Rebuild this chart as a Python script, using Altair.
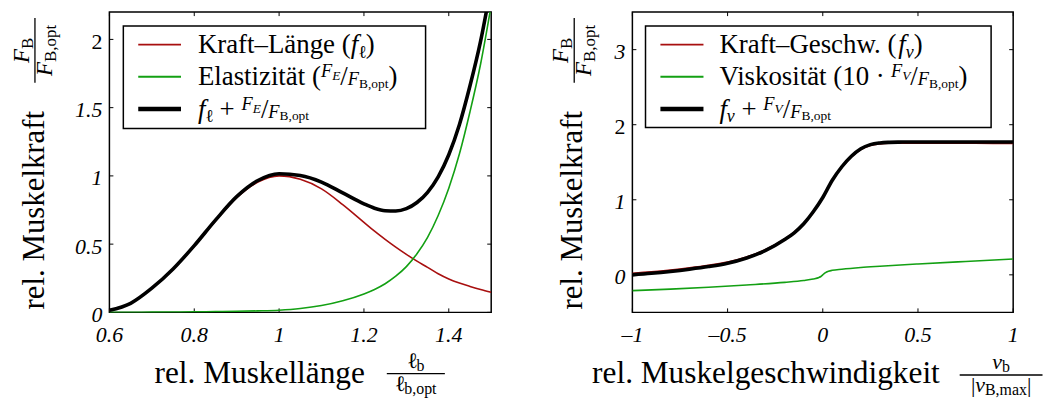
import altair as alt
import pandas as pd

FONT = "Liberation Serif"
RED = "#A80F0F"
GREEN = "#13A013"

# ---------------- data ----------------
laenge = [0.60, 0.65, 0.70, 0.75, 0.80, 0.85, 0.90, 0.95, 1.00, 1.05, 1.10,
          1.15, 1.20, 1.225, 1.25, 1.275, 1.30, 1.325, 1.35, 1.375, 1.40, 1.425, 1.45, 1.475, 1.50]
kraft_laenge = [0.015, 0.065, 0.175, 0.315, 0.485, 0.67, 0.84, 0.955, 1.0, 0.975, 0.905,
                0.79, 0.66, 0.595, 0.535, 0.478, 0.425, 0.375, 0.33, 0.283, 0.245, 0.215, 0.19, 0.167, 0.147]
elastizitaet = [0.0, 0.001, 0.002, 0.003, 0.004, 0.006, 0.008, 0.011, 0.016, 0.028, 0.05,
                0.085, 0.135, 0.168, 0.21, 0.265, 0.335, 0.43, 0.55, 0.71, 0.91, 1.16, 1.47, 1.82, 2.25]
gesamt_laenge = [0.015, 0.066, 0.177, 0.318, 0.489, 0.676, 0.848, 0.966, 1.016, 1.003, 0.955,
                 0.875, 0.795, 0.763, 0.745, 0.743, 0.76, 0.805, 0.88, 0.993, 1.155, 1.375, 1.66, 1.987, 2.397]

geschw = [-1.0, -0.9, -0.8, -0.7, -0.6, -0.5, -0.4, -0.3, -0.2, -0.15, -0.1, -0.05, 0.0,
          0.05, 0.1, 0.15, 0.2, 0.25, 0.3, 0.35, 0.4, 0.5, 0.6, 0.8, 1.0]
kraft_geschw = [0.021, 0.04, 0.064, 0.093, 0.127, 0.17, 0.238, 0.337, 0.48, 0.569, 0.687, 0.845, 1.03,
                1.254, 1.432, 1.571, 1.67, 1.724, 1.745, 1.753, 1.755, 1.755, 1.754, 1.752, 1.749]
gesamt_geschw = [0.0, 0.02, 0.045, 0.075, 0.11, 0.155, 0.225, 0.325, 0.47, 0.56, 0.68, 0.84, 1.03,
                 1.26, 1.44, 1.58, 1.68, 1.735, 1.757, 1.765, 1.768, 1.77, 1.77, 1.77, 1.77]
geschw_visk = [-1.0, -0.8, -0.6, -0.4, -0.2, -0.1, -0.05, -0.02, -0.01, 0.0, 0.01, 0.02,
               0.05, 0.1, 0.2, 0.3, 0.5, 0.75, 1.0]
viskositaet = [-0.21, -0.19, -0.165, -0.135, -0.10, -0.075, -0.055, -0.035, -0.022, 0.0, 0.022, 0.038,
               0.06, 0.075, 0.098, 0.115, 0.145, 0.178, 0.21]

x_ticks_l = [0.6, 0.8, 1.0, 1.2, 1.4]
x_labels_l = ["0.6", "0.8", "1", "1.2", "1.4"]
y_ticks_l = [0.0, 0.5, 1.0, 1.5, 2.0]
y_labels_l = ["0", "0.5", "1", "1.5", "2"]
x_ticks_r = [-1.0, -0.5, 0.0, 0.5, 1.0]
x_labels_r = ["–1", "–0.5", "0", "0.5", "1"]
y_ticks_r = [0.0, 1.0, 2.0, 3.0]
y_labels_r = ["0", "1", "2", "3"]

W_L, W_R, H = 384, 383, 302

# ---------------- text metrics (Times / Liberation Serif) ----------------
REG = {' ': 250, '(': 333, ')': 333, '+': 564, '.': 250, ',': 250, '/': 278, '–': 500, '·': 250,
       '|': 200, 'ℓ': 420, 'a': 444, 'b': 500, 'c': 444, 'd': 500, 'e': 444, 'f': 333, 'g': 500,
       'h': 500, 'i': 278, 'k': 500, 'l': 278, 'm': 778, 'n': 500, 'o': 500, 'p': 500, 'r': 333,
       's': 389, 't': 278, 'u': 500, 'v': 500, 'w': 722, 'x': 500, 'z': 444, 'ä': 444,
       'B': 667, 'E': 611, 'F': 556, 'G': 722, 'K': 722, 'L': 611, 'M': 889, 'V': 722}
ITA = {'F': 611, 'E': 611, 'V': 611, 'f': 278, 'v': 444, 'ℓ': 420}


def tw(s, size, style):
    table = ITA if style == "italic" else REG
    return sum(table.get(ch, REG.get(ch, 500)) for ch in s) * size / 1000.0


one = pd.DataFrame({"d": [0]})


def piece(s, x, y, size, style="normal", angle=0):
    return alt.Chart(one).mark_text(
        text=s, font=FONT, fontSize=size, fontStyle=style, angle=angle,
        align="left", baseline="alphabetic", color="black"
    ).encode(x=alt.value(x), y=alt.value(y))


def run(pieces, x0, y0, angle=0):
    out = []
    cur = 0.0
    for s, size, style, dy in pieces:
        stripped = s.lstrip(" ")
        lead = tw(s[:len(s) - len(stripped)], size, "normal")
        if stripped.strip():
            if angle == 0:
                out.append(piece(stripped.rstrip(" "), x0 + cur + lead, y0 + dy, size, style))
            else:
                out.append(piece(stripped.rstrip(" "), x0 + dy, y0 - cur - lead, size, style, angle=270))
        cur += tw(s, size, style)
    return out


def width(pieces):
    return sum(tw(s, size, style) for s, size, style, dy in pieces)


def hfrac(num, den, x1, x2, ybar):
    c = (x1 + x2) / 2
    out = [alt.Chart(one).mark_rule(color="black", strokeWidth=1.3).encode(
        x=alt.value(x1), x2=alt.value(x2), y=alt.value(ybar))]
    out += run(num, c - width(num) / 2, ybar - 6)
    out += run(den, c - width(den) / 2, ybar + 17.5)
    return out


def vfrac(num, den, xbar, y1, y2):
    c = (y1 + y2) / 2
    out = [alt.Chart(one).mark_rule(color="black", strokeWidth=1.3).encode(
        x=alt.value(xbar), y=alt.value(y1), y2=alt.value(y2))]
    out += run(num, xbar - 6, c + width(num) / 2, angle=270)
    out += run(den, xbar + 17, c + width(den) / 2, angle=270)
    return out


LEG = 27
LF, LFS = 18.5, 13.5


def legend(x1, x2, y1, y2, lx1, lx2, tx, rows):
    out = [alt.Chart(one).mark_rect(fill="white", stroke="black", strokeWidth=1.5).encode(
        x=alt.value(x1), x2=alt.value(x2), y=alt.value(y1), y2=alt.value(y2))]
    for (color, sw, pieces), ly in zip(rows, [32.7, 65.0, 97.5]):
        out.append(alt.Chart(one).mark_rule(color=color, strokeWidth=sw).encode(
            x=alt.value(lx1), x2=alt.value(lx2), y=alt.value(ly)))
        out += run(pieces, tx, ly + 8.5)
    return out


def frac_inline(num, sub, den_sub):
    return [(num, LF, "italic", -8), (sub, LFS, "italic", -5), ("/", LEG, "normal", 0),
            ("F", LF, "italic", 0), (den_sub, LFS, "normal", 3)]


def panel(dfs, xdom, ydom, xt, xl, yt, yl, w, extra):
    xs = alt.Scale(domain=xdom, nice=False, zero=False)
    ys = alt.Scale(domain=ydom, nice=False, zero=False)
    common = dict(grid=True, title=None, labels=False, ticks=False, domain=False,
                  gridColor="#111111", gridDash=[1.4, 10.6], gridWidth=1.2, gridOpacity=1)
    xax = alt.Axis(values=xt, **common)
    yax = alt.Axis(values=yt, **common)
    layers = []
    base_grid = alt.Chart(pd.DataFrame({"x": [xdom[0]], "y": [ydom[0]]})).mark_point(opacity=0).encode(
        x=alt.X("x:Q", scale=xs, axis=xax), y=alt.Y("y:Q", scale=ys, axis=yax))
    layers.append(base_grid)
    # inward ticks on all four sides
    tx = pd.DataFrame({"t": xt, "lab": xl})
    ty = pd.DataFrame({"t": yt, "lab": yl})
    for a, b in [(H, H - 4), (0, 4)]:
        layers.append(alt.Chart(tx).mark_rule(color="black", strokeWidth=1).encode(
            x=alt.X("t:Q", scale=xs, axis=None), y=alt.value(a), y2=alt.value(b)))
    for a, b in [(0, 4), (w, w - 4)]:
        layers.append(alt.Chart(ty).mark_rule(color="black", strokeWidth=1).encode(
            y=alt.Y("t:Q", scale=ys, axis=None), x=alt.value(a), x2=alt.value(b)))
    # tick labels (italic, except "2" which the reference shows upright)
    for df_t, chan in [(tx, "x"), (ty, "y")]:
        for style, test in [("italic", "datum.t != 2"), ("normal", "datum.t == 2")]:
            if chan == "x":
                layers.append(alt.Chart(df_t).transform_filter(test).mark_text(
                    font=FONT, fontSize=22, fontStyle=style, color="black", align="center",
                    baseline="alphabetic").encode(
                    x=alt.X("t:Q", scale=xs, axis=None), y=alt.value(H + 29.7), text="lab:N"))
            else:
                layers.append(alt.Chart(df_t).transform_filter(test).mark_text(
                    font=FONT, fontSize=22, fontStyle=style, color="black", align="right",
                    baseline="alphabetic", dy=9.5).encode(
                    y=alt.Y("t:Q", scale=ys, axis=None), x=alt.value(-7), text="lab:N"))
    for df, col, color, sw in dfs:
        layers.append(alt.Chart(df).mark_line(color=color, strokeWidth=sw, interpolate="monotone", clip=True).encode(
            x=alt.X("x:Q", scale=xs, axis=None), y=alt.Y(col + ":Q", scale=ys, axis=None), order="x:Q"))
    layers += extra
    return alt.layer(*layers).properties(width=w, height=H)


# ---------------- left panel ----------------
df_l = pd.DataFrame({"x": laenge, "fl": kraft_laenge, "fe": elastizitaet, "sum": gesamt_laenge})
extra_l = []
extra_l += legend(14, 318, 14, 117, 29, 72, 89, [
    (RED, 1.8, [("Kraft–Länge (", LEG, "normal", 0), ("f", LEG, "italic", 0), ("ℓ", 18, "normal", 5),
                (")", LEG, "normal", 0)]),
    (GREEN, 1.8, [("Elastizität (", LEG, "normal", 0)] + frac_inline("F", "E", "B,opt") + [(")", LEG, "normal", 0)]),
    ("black", 4.5, [("f", LEG, "italic", 0), ("ℓ", 18, "normal", 5), (" + ", LEG, "normal", 0)]
     + frac_inline("F", "E", "B,opt")),
])
extra_l += run([("rel. Muskelkraft", 31, "normal", 0)], -65.9, 299, angle=270)
extra_l += vfrac([("F", 23, "italic", 0), ("B", 17, "normal", 4)],
                 [("F", 23, "italic", 0), ("B,opt", 17, "normal", 4)], -74.9, 6, 71)
extra_l += run([("rel. Muskellänge", 31.5, "normal", 0)], 45.4, 372.7)
extra_l += hfrac([("ℓ", 22, "normal", 0), ("b", 16, "normal", 3)],
                 [("ℓ", 22, "normal", 0), ("b,opt", 16, "normal", 3)], 279, 337.4, 363.7)

left = panel([(df_l, "fl", RED, 1.6), (df_l, "fe", GREEN, 1.6), (df_l, "sum", "black", 3.6)],
             [0.6, 1.5], [0, 2.2], x_ticks_l, x_labels_l, y_ticks_l, y_labels_l, W_L, extra_l)

# ---------------- right panel ----------------
df_r = pd.DataFrame({"x": geschw, "fv": kraft_geschw, "sum": gesamt_geschw})
df_v = pd.DataFrame({"x": geschw_visk, "visk": viskositaet})
extra_r = []
extra_r += legend(13.2, 360.8, 14, 116, 28.2, 71.5, 87.5, [
    (RED, 1.8, [("Kraft–Geschw. (", LEG, "normal", 0), ("f", LEG, "italic", 0), ("v", 18, "italic", 5),
                (")", LEG, "normal", 0)]),
    (GREEN, 1.8, [("Viskosität (10 · ", LEG, "normal", 0)] + frac_inline("F", "V", "B,opt") + [(")", LEG, "normal", 0)]),
    ("black", 4.5, [("f", LEG, "italic", 0), ("v", 18, "italic", 5), (" + ", LEG, "normal", 0)]
     + frac_inline("F", "V", "B,opt")),
])
extra_r += run([("rel. Muskelkraft", 31, "normal", 0)], -50.2, 299, angle=270)
extra_r += vfrac([("F", 23, "italic", 0), ("B", 17, "normal", 4)],
                 [("F", 23, "italic", 0), ("B,opt", 17, "normal", 4)], -58.5, 6, 71)
extra_r += run([("rel. Muskelgeschwindigkeit", 31.5, "normal", 0)], -40.5, 372.7)
extra_r += hfrac([("v", 22, "italic", 0), ("b", 16, "normal", 3)],
                 [("|", 22, "normal", 0), ("v", 22, "italic", 0), ("B,max", 16, "normal", 3), ("|", 22, "normal", 0)],
                 329.2, 412.5, 365)

right = panel([(df_r, "fv", RED, 1.6), (df_v, "visk", GREEN, 1.6), (df_r, "sum", "black", 3.6)],
              [-1, 1], [-0.5, 3.5], x_ticks_r, x_labels_r, y_ticks_r, y_labels_r, W_R, extra_r)

chart = alt.hconcat(left, right, spacing=142, bounds="flush").properties(
    padding={"left": 2, "top": 1, "right": 0, "bottom": 0}
).configure_view(stroke="black", strokeWidth=1.5)

chart.save("out.html", embed_options={"renderer": "svg", "actions": False})
